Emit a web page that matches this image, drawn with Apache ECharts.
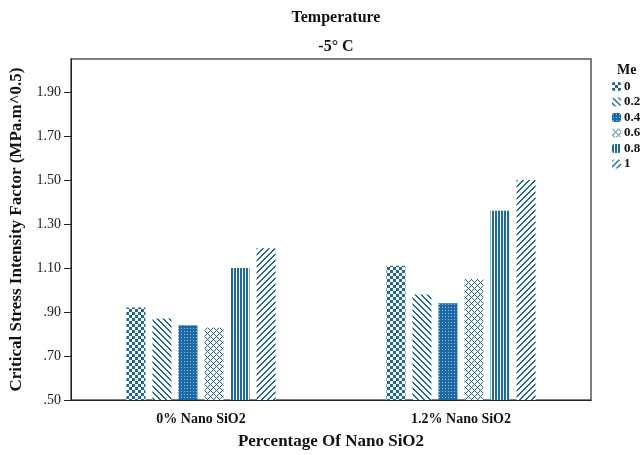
<!DOCTYPE html>
<html>
<head>
<meta charset="utf-8">
<script src="https://cdn.jsdelivr.net/npm/echarts@6/dist/echarts.min.js"></script>
<style>
  html, body { margin: 0; padding: 0; background: #fff; }
  #chart { width: 640px; height: 455px; }
</style>
</head>
<body>
<div id="chart"></div>
<script>
// Critical stress intensity factor at -5 °C, grouped by nano SiO2 content
const categories = ['0% Nano SiO2', '1.2% Nano SiO2'];
const meLevels = ['0', '0.2', '0.4', '0.6', '0.8', '1'];
const me0   = [0.92, 1.11];
const me02  = [0.87, 0.98];
const me04  = [0.84, 0.94];
const me06  = [0.83, 1.05];
const me08  = [1.10, 1.36];
const me1   = [1.19, 1.50];
const yTicks = [0.5, 0.7, 0.9, 1.1, 1.3, 1.5, 1.7, 1.9];

const seriesValues = [me0, me02, me04, me06, me08, me1];
const BLUE = [27, 106, 165];
const LIGHT = [150, 190, 222];
const SERIF = '"Liberation Serif", "DejaVu Serif", serif';

// Build a small tiling fill; test(x, y) returns 0 = white, 1 = blue, 2 = light blue
function pattern(size, test) {
  const c = document.createElement('canvas');
  c.width = size; c.height = size;
  const ctx = c.getContext('2d');
  const img = ctx.createImageData(size, size);
  for (let y = 0; y < size; y++) {
    for (let x = 0; x < size; x++) {
      const v = test(x, y);
      const col = v === 1 ? BLUE : v === 2 ? LIGHT : [255, 255, 255];
      const i = (y * size + x) * 4;
      img.data[i] = col[0]; img.data[i + 1] = col[1]; img.data[i + 2] = col[2]; img.data[i + 3] = 255;
    }
  }
  ctx.putImageData(img, 0, 0);
  return { image: c, repeat: 'repeat' };
}
const mod = (a, n) => ((a % n) + n) % n;
const fills = [
  pattern(6, (x, y) => ((x < 3) === (y < 3)) ? 1 : 0),                 // checkerboard
  pattern(6, (x, y) => mod(x - y, 6) < 2 ? 1 : 0),                      // "\" stripes
  pattern(3, (x, y) => (x === 1 && y === 1) ? 2 : 1),                   // solid with dots
  pattern(6, (x, y) => (mod(x + y, 6) === 0 || mod(x - y, 6) === 0) ? 1 : 0), // lattice
  pattern(3, (x, y) => x < 2 ? 1 : 0),                                  // vertical stripes
  pattern(6, (x, y) => mod(x + y, 6) < 2 ? 1 : 0)                       // "/" stripes
];

const chart = echarts.init(document.getElementById('chart'), null, { renderer: 'canvas' });

const series = meLevels.map((name, i) => ({
  name: name,
  type: 'bar',
  data: seriesValues[i],
  barWidth: 19,
  barGap: '37%',
  itemStyle: { color: fills[i] }
}));

chart.setOption({
  animation: false,
  backgroundColor: '#fff',
  title: [
    { text: 'Temperature', left: 331, top: 5, textAlign: 'center',
      textStyle: { fontFamily: SERIF, fontWeight: 'bold', fontSize: 16, color: '#111' } },
    { text: '-5° C', left: 331, top: 34, textAlign: 'center',
      textStyle: { fontFamily: SERIF, fontWeight: 'bold', fontSize: 16, color: '#111' } },
    { text: 'Me', left: 612, top: 58,
      textStyle: { fontFamily: SERIF, fontWeight: 'bold', fontSize: 14, color: '#111' } }
  ],
  legend: {
    orient: 'vertical',
    left: 612,
    top: 80,
    itemWidth: 9,
    itemHeight: 9,
    itemGap: 2.5,
    padding: 0,
    data: meLevels,
    textStyle: { fontFamily: SERIF, fontWeight: 'bold', fontSize: 13, lineHeight: 13, color: '#111', padding: [0, 0, 0, -2] }
  },
  grid: {
    left: 71, right: 49, top: 59, bottom: 55,
    outerBoundsMode: 'none',
    show: true, borderColor: '#555', borderWidth: 1.5, backgroundColor: '#fff'
  },
  xAxis: {
    type: 'category',
    data: categories,
    name: 'Percentage Of Nano SiO2',
    nameLocation: 'middle',
    nameGap: 33,
    nameTextStyle: { fontFamily: SERIF, fontWeight: 'bold', fontSize: 17, color: '#111' },
    axisLine: { lineStyle: { color: '#222', width: 1 } },
    axisTick: { alignWithLabel: true, length: 8, lineStyle: { color: '#222' } },
    axisLabel: { fontFamily: SERIF, fontWeight: 'bold', fontSize: 14, color: '#111', margin: 12 }
  },
  yAxis: {
    type: 'value',
    min: yTicks[0],
    max: 2.05,
    interval: 0.2,
    name: 'Critical Stress Intensity Factor (MPa.m^0.5)',
    nameLocation: 'middle',
    nameRotate: 90,
    nameGap: 46,
    nameTextStyle: { fontFamily: SERIF, fontWeight: 'bold', fontSize: 17, color: '#111' },
    splitLine: { show: false },
    axisLine: { show: true, lineStyle: { color: '#222', width: 1 } },
    axisTick: { show: true, length: 7, lineStyle: { color: '#222' } },
    axisLabel: {
      showMaxLabel: false,
      fontFamily: SERIF, fontSize: 14, color: '#222', margin: 10,
      formatter: v => {
        if (!yTicks.some(t => Math.abs(t - v) < 1e-6)) return '';
        const s = v.toFixed(2);
        return v < 1 ? s.replace(/^0/, '') : s;
      }
    }
  },
  series: series
});
</script>
</body>
</html>
